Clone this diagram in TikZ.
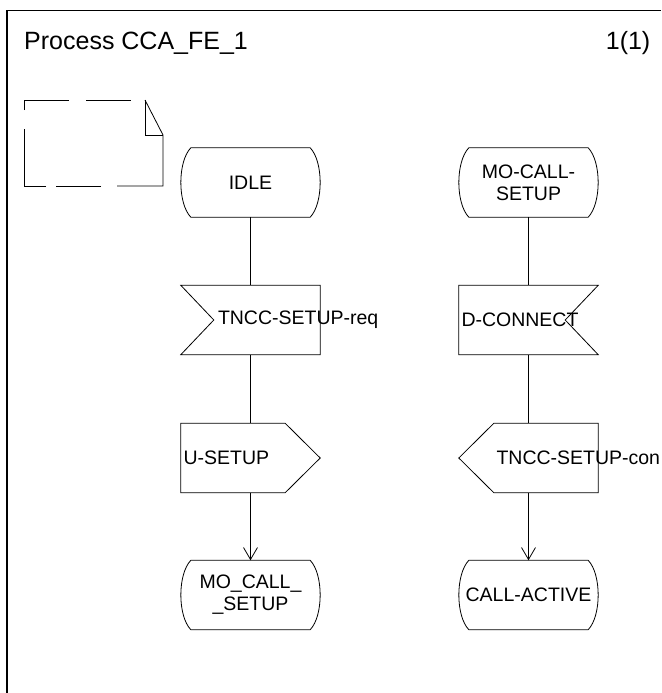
\documentclass[tikz,border=0pt]{standalone}
\usepackage{fontspec}
\setmainfont{Liberation Sans}
\usetikzlibrary{calc,arrows.meta}
\newcommand{\sdlstateoutline}[1]{%
  \draw[sdlline] ($(#1.north west)+(10,0)$) -- ($(#1.north east)+(-10,0)$)
    .. controls ($(#1.north east)+(3.3,14)$) and ($(#1.south east)+(3.3,-14)$) .. ($(#1.south east)+(-10,0)$)
    -- ($(#1.south west)+(10,0)$)
    .. controls ($(#1.south west)+(-3.3,-14)$) and ($(#1.north west)+(-3.3,14)$) .. cycle;}
\newcommand{\sdlinputleft}[1]{%
  \draw[sdlline] (#1.north west) -- (#1.north east) -- (#1.south east) -- (#1.south west) -- ($(#1.west)+(33,0)$) -- cycle;}
\newcommand{\sdlinputright}[1]{%
  \draw[sdlline] (#1.north west) -- (#1.north east) -- ($(#1.east)+(-33,0)$) -- (#1.south east) -- (#1.south west) -- cycle;}
\newcommand{\sdloutputright}[1]{%
  \draw[sdlline] (#1.north west) -- ($(#1.north east)+(-35,0)$) -- (#1.east) -- ($(#1.south east)+(-35,0)$) -- (#1.south west) -- cycle;}
\newcommand{\sdloutputleft}[1]{%
  \draw[sdlline] (#1.north east) -- ($(#1.north west)+(35,0)$) -- (#1.west) -- ($(#1.south west)+(35,0)$) -- (#1.south east) -- cycle;}
\begin{document}
\begin{tikzpicture}[x=1pt,y=-1pt,
  sdlline/.style={line width=0.8pt, black},
  sdlnode/.style={rectangle, inner sep=0pt, minimum width=139pt, minimum height=69pt,
    font=\fontsize{19.5}{22}\selectfont, align=center},
  flow/.style={line width=0.8pt},
  flowarrow/.style={line width=0.8pt, -{Straight Barb[length=12pt,width=14pt]}},
  titletext/.style={inner sep=0pt, font=\fontsize{25}{30}\selectfont}]
\useasboundingbox (0,0) rectangle (661,693);
\fill[white] (0,0) rectangle (661,693);
% frame
\draw[line width=1.1pt] (7,693) -- (7,10.5) -- (661,10.5);
\node[titletext, anchor=base west] (title) at (24,50) {Process CCA\_FE\_1};
\node[titletext, anchor=base east] (page) at (650.5,50) {1(1)};
% comment symbol
\draw[sdlline] (24,100) -- (69,100);
\draw[sdlline] (86,100) -- (131,100);
\draw[sdlline] (145,100) -- (163,135) -- (163,186) -- (117,186);
\draw[sdlline] (145,100) -- (145,135) -- (163,135);
\draw[sdlline] (101,186) -- (56,186);
\draw[sdlline] (46,186) -- (24,186) -- (24,129);
\draw[sdlline] (24,110) -- (24,100);
% left column
\node[sdlnode] (s1) at (250.5,182.5) {IDLE};
\node[sdlnode] (i1) at (250.5,320) {\makebox[139pt][l]{\hspace{37pt}TNCC-SETUP-req}};
\node[sdlnode] (o1) at (250.5,458) {\makebox[139pt][l]{\hspace{2.5pt}U-SETUP}};
\node[sdlnode] (s2) at (250.5,595) {MO\_CALL\_\\\_SETUP};
% right column
\node[sdlnode] (s3) at (528.5,182.5) {MO-CALL-\\SETUP};
\node[sdlnode] (i2) at (528.5,320) {\makebox[139pt][l]{\hspace{2.5pt}D-CONNECT}};
\node[sdlnode] (o2) at (528.5,458) {\makebox[139pt][l]{\hspace{37.5pt}TNCC-SETUP-con}};
\node[sdlnode] (s4) at (528.5,595) {CALL-ACTIVE};
% outlines
\sdlstateoutline{s1}
\sdlinputleft{i1}
\sdloutputright{o1}
\sdlstateoutline{s2}
\sdlstateoutline{s3}
\sdlinputright{i2}
\sdloutputleft{o2}
\sdlstateoutline{s4}
% connectors
\draw[flow] (s1.south) -- (i1.north);
\draw[flow] (i1.south) -- (o1.north);
\draw[flowarrow] (o1.south) -- (s2.north);
\draw[flow] (s3.south) -- (i2.north);
\draw[flow] (i2.south) -- (o2.north);
\draw[flowarrow] (o2.south) -- (s4.north);
\end{tikzpicture}
\end{document}
